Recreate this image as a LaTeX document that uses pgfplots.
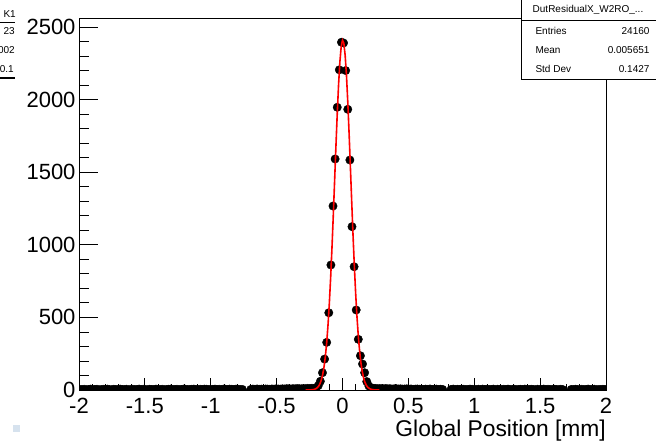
\documentclass[border=0pt]{standalone}
\usepackage{fontspec}
\setmainfont{Liberation Sans}
\usepackage{pgfplots}
\pgfplotsset{compat=1.18}
\definecolor{rootblue}{RGB}{214,226,238}

\begin{document}
\begin{tikzpicture}
\path[use as bounding box] (0,0) rectangle (656bp,443bp);
\begin{axis}[at={(79bp,53bp)}, anchor=south west,
  scale only axis, width=527bp, height=372bp,
  xmin=-2, xmax=2, ymin=0, ymax=2562,
  xtick={-2,-1.5,-1,-0.5,0,0.5,1,1.5,2},
  xticklabels={-2,-1.5,-1,-0.5,0,0.5,1,1.5,2},
  ytick={0,500,1000,1500,2000,2500},
  yticklabels={0,500,1000,1500,2000,2500},
  minor x tick num=4, minor y tick num=4,
  tick pos=left, tick align=inside,
  major tick length=12bp, minor tick length=6bp,
  y tick style={/pgfplots/major tick length=19bp, /pgfplots/minor tick length=10bp},
  tick style={black, line width=0.8bp},
  axis line style={line width=0.8bp},
  ticklabel style={font=\fontsize{22bp}{26bp}\selectfont},
  xticklabel style={yshift=-5bp},
  xlabel={Global Position [mm]},
  xlabel style={at={(axis description cs:1,0)}, anchor=base east, yshift=-46bp,
    inner sep=0pt, font=\fontsize{22.8bp}{27bp}\selectfont},
  clip marker paths=true]

% histogram, bin width 0.016
\addplot[only marks, mark=*, mark size=4.2bp, black] coordinates {
(-1.992,4)(-1.976,3)(-1.960,5)(-1.944,2)(-1.928,4)(-1.912,6)(-1.896,3)(-1.880,4)
(-1.864,5)(-1.848,2)(-1.832,3)(-1.816,5)(-1.800,4)(-1.784,6)(-1.768,3)(-1.752,2)
(-1.736,5)(-1.720,4)(-1.704,3)(-1.688,6)(-1.672,4)(-1.656,3)(-1.640,5)(-1.624,2)
(-1.608,4)(-1.592,5)(-1.576,3)(-1.560,4)(-1.544,6)(-1.528,3)(-1.512,5)(-1.496,4)
(-1.480,2)(-1.464,5)(-1.448,4)(-1.432,3)(-1.416,6)(-1.400,4)(-1.384,3)(-1.368,5)
(-1.352,2)(-1.336,4)(-1.320,5)(-1.304,6)(-1.288,3)(-1.272,4)(-1.256,5)(-1.240,3)
(-1.224,4)(-1.208,6)(-1.192,5)(-1.176,3)(-1.160,4)(-1.144,5)(-1.128,6)(-1.112,4)
(-1.096,3)(-1.080,5)(-1.064,4)(-1.048,6)(-1.032,5)(-1.016,4)(-1.000,3)(-0.984,5)
(-0.968,6)(-0.952,4)(-0.936,5)(-0.920,3)(-0.904,6)(-0.888,5)(-0.872,4)(-0.856,6)
(-0.840,5)(-0.824,4)(-0.808,6)(-0.792,5)(-0.776,3)(-0.760,4)
(-0.696,4)(-0.680,6)(-0.664,5)(-0.648,7)(-0.632,5)(-0.616,6)(-0.600,4)(-0.584,7)
(-0.568,6)(-0.552,5)(-0.536,7)(-0.520,6)(-0.504,8)(-0.488,7)(-0.472,6)(-0.456,8)
(-0.440,7)(-0.424,9)(-0.408,8)(-0.392,7)(-0.376,9)(-0.360,8)(-0.344,10)(-0.328,9)
(-0.312,8)(-0.296,10)(-0.280,9)(-0.264,11)(-0.248,10)(-0.232,12)
(-0.216,9)(-0.200,16)(-0.184,30)(-0.168,60)(-0.152,119)(-0.136,213)(-0.120,328)
(-0.104,532)(-0.088,861)(-0.072,1267)(-0.056,1591)(-0.040,1947)(-0.024,2205)
(-0.008,2395)(0.008,2390)(0.024,2200)(0.040,1933)(0.056,1584)(0.072,1125)
(0.088,849)(0.104,551)(0.120,349)(0.136,236)(0.152,179)(0.168,119)(0.184,58)
(0.200,28)(0.216,14)
(0.232,12)(0.248,11)(0.264,9)(0.280,10)(0.296,9)(0.312,8)(0.328,10)(0.344,8)
(0.360,9)(0.376,7)(0.392,8)(0.408,9)(0.424,7)(0.440,8)(0.456,6)(0.472,7)
(0.488,8)(0.504,6)(0.520,7)(0.536,5)(0.552,6)(0.568,7)(0.584,5)(0.600,6)
(0.616,4)(0.632,6)(0.648,5)(0.664,7)(0.680,4)(0.696,5)(0.712,6)(0.728,4)
(0.744,5)(0.760,4)
(0.824,4)(0.840,6)(0.856,3)(0.872,5)(0.888,4)(0.904,6)(0.920,5)(0.936,3)
(0.952,4)(0.968,6)(0.984,5)(1.000,3)(1.016,4)(1.032,5)(1.048,3)(1.064,6)
(1.080,4)(1.096,5)(1.112,3)(1.128,4)(1.144,6)(1.160,2)(1.176,5)(1.192,4)
(1.208,3)(1.224,5)(1.240,4)(1.256,6)(1.272,3)(1.288,4)(1.304,5)(1.320,2)
(1.336,4)(1.352,5)(1.368,3)(1.384,6)(1.400,4)(1.416,3)(1.432,5)(1.448,4)
(1.464,2)(1.480,5)(1.496,3)(1.512,4)(1.528,6)(1.544,3)(1.560,5)(1.576,4)
(1.592,3)(1.608,5)(1.624,4)(1.640,2)(1.656,5)(1.672,3)
(1.736,4)(1.752,3)(1.768,5)(1.784,4)(1.800,2)(1.816,5)(1.832,3)(1.848,4)
(1.864,6)(1.880,3)(1.896,4)(1.912,5)(1.928,2)(1.944,4)(1.960,3)(1.976,5)
(1.992,4)
};

% gaussian fit
\addplot[red, line width=1.6bp, no marks] coordinates {
(-0.28,0.06)(-0.27,0.12)(-0.26,0.24)(-0.25,0.47)(-0.24,0.92)(-0.23,1.74)
(-0.22,3.2)(-0.21,5.7)(-0.20,10.0)(-0.19,17.0)(-0.18,28.1)(-0.17,45.3)
(-0.16,70.9)(-0.15,108)(-0.14,160.5)(-0.13,232)(-0.12,326)(-0.11,447)
(-0.10,596)(-0.09,773)(-0.08,977)(-0.07,1201)(-0.06,1438)(-0.05,1676)
(-0.04,1901)(-0.03,2100)(-0.02,2258)(-0.01,2364)(0.00,2409)(0.01,2389)
(0.02,2307)(0.03,2169)(0.04,1985)(0.05,1768)(0.06,1534)(0.07,1295)
(0.08,1064)(0.09,851)(0.10,663)(0.11,503)(0.12,371)(0.13,267)(0.14,186)
(0.15,127)(0.16,84)(0.17,54)(0.18,34)(0.19,20.9)(0.20,12.4)(0.21,7.2)
(0.22,4.1)(0.23,2.2)(0.24,1.2)(0.25,0.6)(0.26,0.3)(0.27,0.15)(0.28,0.07)
};
\end{axis}

% stats box (right)
\begin{scope}[font=\fontsize{10bp}{12bp}\selectfont]
\fill[white] (521bp,363bp) rectangle (660bp,445bp);
\draw[line width=0.6bp] (521bp,445bp) -- (521bp,364bp) -- (660bp,364bp);
\draw[line width=1.2bp] (522bp,363.4bp) -- (660bp,363.4bp);
\draw[line width=0.6bp] (521bp,423bp) -- (660bp,423bp);
\node at (588bp,433bp) {DutResidualX\_W2RO\_...};
\node[anchor=west] at (532bp,412bp) {Entries};
\node[anchor=east] at (653bp,412bp) {24160};
\node[anchor=west] at (532bp,393bp) {Mean};
\node[anchor=east] at (653bp,393bp) {0.005651};
\node[anchor=west] at (532bp,374bp) {Std Dev};
\node[anchor=east] at (653bp,374bp) {0.1427};

% stats box (left, cut off)
\draw[line width=0.6bp] (-5bp,421bp) -- (15bp,421bp);
\draw[line width=1.2bp] (-5bp,365bp) -- (15bp,365bp);
\node[anchor=east, inner sep=0pt] at (16bp,429bp) {K1};
\node[anchor=east, inner sep=0pt] at (15bp,412bp) {23};
\node[anchor=east, inner sep=0pt] at (15bp,393bp) {002};
\node[anchor=east, inner sep=0pt] at (14bp,374bp) {0.1};
\end{scope}

\fill[rootblue] (13bp,11bp) rectangle (20bp,18bp);
\end{tikzpicture}
\end{document}
